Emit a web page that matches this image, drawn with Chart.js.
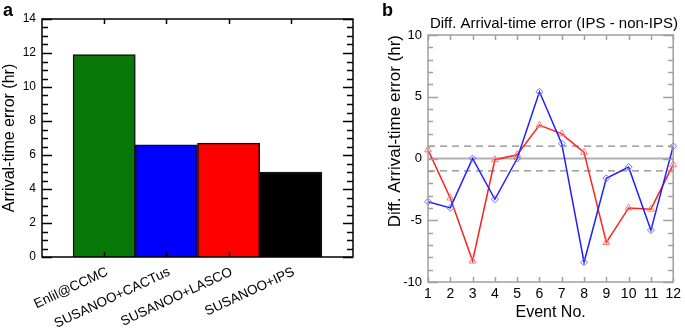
<!DOCTYPE html>
<html>
<head>
<meta charset="utf-8">
<script src="https://cdn.jsdelivr.net/npm/chart.js@4"></script>
<style>
  body { margin: 0; background: #fff; }
  #wrap { position: relative; width: 685px; height: 329px; font-family: 'Liberation Sans', Arial, sans-serif; }
  canvas { position: absolute; top: 0; }
  .panel { position: absolute; font-weight: bold; font-size: 18px; line-height: 18px; }
</style>
</head>
<body>
<div id="wrap">
  <canvas id="chart-a" width="365" height="329" style="left:0"></canvas>
  <canvas id="chart-b" width="320" height="329" style="left:365px"></canvas>
  <div class="panel" style="left:3px; top:1px">a</div>
  <div class="panel" style="left:382px; top:1px">b</div>
</div>
<script>
// 패널 a : 방법별 도착시간 오차
const methods = ['Enlil@CCMC', 'SUSANOO+CACTus', 'SUSANOO+LASCO', 'SUSANOO+IPS'];
const arrivalErr = [11.9, 6.6, 6.7, 5.0];
const barColors = ['#077807', '#0000ff', '#ff0000', '#000000'];

// 패널 b : 이벤트별 차이 (IPS - non-IPS)
const events = ['1', '2', '3', '4', '5', '6', '7', '8', '9', '10', '11', '12'];
const diffBlue = [-3.5, -4.0, 0.0, -3.3, 0.0, 5.4, 1.2, -8.4, -1.6, -0.7, -5.8, 1.0];
const diffRed = [0.7, -3.2, -8.3, -0.1, 0.3, 2.7, 2.0, 0.5, -6.8, -4.0, -4.1, -0.5];
const refLevels = [-1, 0, 1];

const FONT = "'Liberation Sans', Arial, sans-serif";
Chart.defaults.font.family = FONT;
Chart.defaults.color = '#000';

// 안쪽으로 향하는 눈금 + 테두리 그리기
const frameTicks = {
    id: 'frameTicks',
    beforeDatasetsDraw(chart, args, opts) {
        if (!opts.refLevels) return;
        const { ctx, chartArea: a, scales: { y } } = chart;
        ctx.save();
        opts.refLevels.forEach(v => {
            const py = y.getPixelForValue(v);
            ctx.beginPath();
            if (v === 0) {
                ctx.strokeStyle = '#b0b0b0';
                ctx.lineWidth = 2;
                ctx.setLineDash([]);
            } else {
                ctx.strokeStyle = '#8a8a8a';
                ctx.lineWidth = 1.2;
                ctx.setLineDash([7, 5]);
            }
            ctx.moveTo(a.left, py);
            ctx.lineTo(a.right, py);
            ctx.stroke();
        });
        ctx.restore();
    },
    afterDatasetsDraw(chart, args, opts) {
        const { ctx, chartArea: a, scales: { x, y } } = chart;
        ctx.save();
        ctx.strokeStyle = opts.color;
        ctx.lineWidth = opts.width;
        ctx.beginPath();
        // y 눈금 (주/보조)
        for (let v = y.min; v <= y.max + 1e-9; v += opts.yMinor) {
            const py = Math.round(y.getPixelForValue(v)) + 0.5;
            const isMajor = Math.abs(v / opts.yMajor - Math.round(v / opts.yMajor)) < 1e-6;
            const len = isMajor ? opts.major : opts.minor;
            ctx.moveTo(a.left, py); ctx.lineTo(a.left + len, py);
            ctx.moveTo(a.right, py); ctx.lineTo(a.right - len, py);
        }
        // x 눈금
        opts.xTicks.forEach(i => {
            const px = Math.round(x.getPixelForValue(i)) + 0.5;
            ctx.moveTo(px, a.top); ctx.lineTo(px, a.top + opts.xLen);
            ctx.moveTo(px, a.bottom); ctx.lineTo(px, a.bottom - opts.xLen);
        });
        ctx.stroke();
        ctx.strokeRect(a.left, a.top, a.right - a.left, a.bottom - a.top);
        ctx.restore();
    }
};

// ---------- 패널 a ----------
const barLabels = [''].concat(methods, ['']);
const barData = [null].concat(arrivalErr, [null]);

new Chart(document.getElementById('chart-a'), {
    type: 'bar',
    data: {
        labels: barLabels,
        datasets: [{
            data: barData,
            backgroundColor: [null].concat(barColors, [null]),
            borderColor: '#111',
            borderWidth: 1.5,
            barPercentage: 1,
            categoryPercentage: 1
        }]
    },
    options: {
        responsive: false,
        animation: false,
        layout: { padding: { left: 0, top: 19, right: 12, bottom: 0 } },
        plugins: {
            legend: { display: false },
            tooltip: { enabled: false },
            frameTicks: { color: '#000', width: 1.5, yMinor: 0.5, yMajor: 2, major: 10, minor: 6, xTicks: [1, 2, 3, 4], xLen: 5 }
        },
        scales: {
            x: {
                offset: false,
                grid: { display: false, drawTicks: false },
                border: { display: false },
                ticks: { font: { size: 13.5 }, minRotation: 25, maxRotation: 25, autoSkip: false, padding: 7, labelOffset: 3 },
                afterFit(s) { s.height = 72; s.paddingLeft = 0; s.paddingRight = 0; }
            },
            y: {
                min: 0,
                max: 14,
                grid: { display: false, drawTicks: false },
                border: { display: false },
                ticks: { stepSize: 2, font: { size: 12 }, padding: 6 },
                title: { display: true, text: 'Arrival-time error (hr)', font: { size: 16 }, padding: { top: 0, bottom: 0 } },
                afterFit(s) { s.width = 42; }
            }
        }
    },
    plugins: [frameTicks]
});

// ---------- 패널 b ----------
new Chart(document.getElementById('chart-b'), {
    type: 'line',
    data: {
        labels: events,
        datasets: [{
            data: diffBlue,
            borderColor: '#2020ff',
            borderWidth: 1.5,
            pointStyle: 'rectRot',
            pointRadius: 3.5,
            pointBorderColor: '#7070ff',
            pointBackgroundColor: 'rgba(255,255,255,0)',
            pointBorderWidth: 1,
            tension: 0
        }, {
            data: diffRed,
            borderColor: '#ff2020',
            borderWidth: 1.5,
            pointStyle: 'triangle',
            pointRadius: 4,
            pointBorderColor: '#ff7a7a',
            pointBackgroundColor: 'rgba(255,255,255,0)',
            pointBorderWidth: 1,
            tension: 0
        }]
    },
    options: {
        responsive: false,
        animation: false,
        clip: false,
        layout: { padding: { left: 0, top: 0, right: 7, bottom: 0 } },
        plugins: {
            legend: { display: false },
            tooltip: { enabled: false },
            title: {
                display: true,
                text: 'Diff. Arrival-time error (IPS - non-IPS)',
                font: { size: 15, weight: 'normal' },
                color: '#000',
                align: 'end',
                padding: { top: 15, bottom: 2 }
            },
            frameTicks: { color: '#a0a0a0', width: 1.5, yMinor: 1, yMajor: 5, major: 10, minor: 5, xTicks: events.map((e, i) => i), xLen: 5, refLevels: refLevels }
        },
        scales: {
            x: {
                offset: false,
                grid: { display: false, drawTicks: false },
                border: { display: false },
                ticks: { font: { size: 14 }, maxRotation: 0, autoSkip: false, padding: 4 },
                title: { display: true, text: 'Event No.', font: { size: 16 }, padding: { top: 0, bottom: 7 } },
                afterFit(s) { s.height = 47; }
            },
            y: {
                min: -10,
                max: 10,
                grid: { display: false, drawTicks: false },
                border: { display: false },
                ticks: { stepSize: 5, font: { size: 13 }, padding: 6 },
                title: { display: true, text: 'Diff. Arrival-time error (hr)', font: { size: 17 }, align: 'end', padding: { top: 20, bottom: 0 } },
                afterFit(s) { s.width = 63; }
            }
        }
    },
    plugins: [frameTicks]
});
</script>
</body>
</html>
